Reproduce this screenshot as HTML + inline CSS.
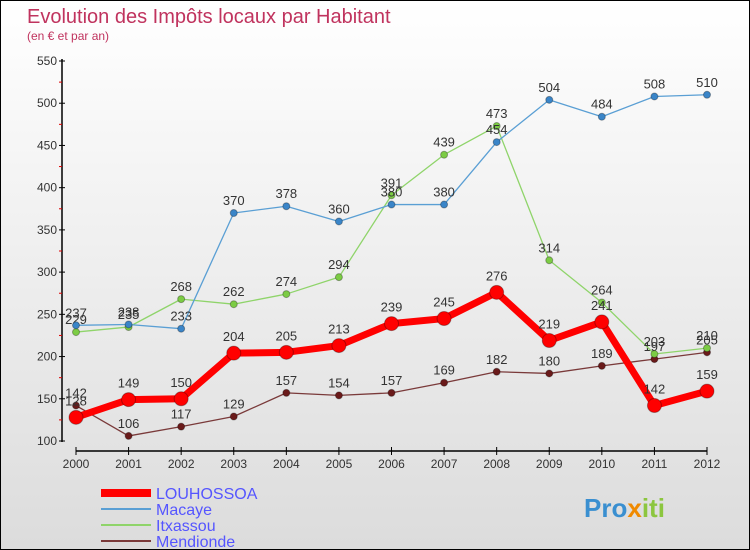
<!DOCTYPE html>
<html><head><meta charset="utf-8"><style>
body{margin:0}
#c{width:750px;height:550px;box-sizing:border-box;border:1px solid #000;background:linear-gradient(#fff,#dcdcdc);position:relative;overflow:hidden;font-family:"Liberation Sans","DejaVu Sans",sans-serif}
</style></head><body>
<div id="c">
<svg id="s" width="750" height="550" style="position:absolute;left:0;top:0">
<text x="26" y="22" font-size="20" fill="#c0335e">Evolution des Impôts locaux par Habitant</text>
<text x="26" y="39" font-size="12" fill="#c0335e">(en € et par an)</text>
</svg>
</div>
<script>
const years=[2000,2001,2002,2003,2004,2005,2006,2007,2008,2009,2010,2011,2012];
const louhossoa=[128,149,150,204,205,213,239,245,276,219,241,142,159];
const macaye=[237,238,233,370,378,360,380,380,454,504,484,508,510];
const itxassou=[229,235,268,262,274,294,391,439,473,314,264,203,210];
const mendionde=[142,106,117,129,157,154,157,169,182,180,189,197,205];
const yTicks=[100,150,200,250,300,350,400,450,500,550];
const seriesNames=["LOUHOSSOA","Macaye","Itxassou","Mendionde"];
const svg=document.getElementById('s');const NS='http://www.w3.org/2000/svg';
const x=i=>75+i*(706-75)/(years.length-1);
const y=v=>440-(v-100)*380/450;
function mk(t,a,p){const e=document.createElementNS(NS,t);for(const k in a)e.setAttribute(k,a[k]);(p||svg).appendChild(e);return e;}
let ax=mk('line',{x1:61,y1:58,x2:61,y2:441,stroke:'#000','stroke-width':1.5});

yTicks.forEach((v,i)=>{mk('line',{x1:58,x2:64,y1:y(v),y2:y(v),stroke:'#000'});
 if(i<yTicks.length-1)mk('line',{x1:58,x2:61,y1:y(v+25),y2:y(v+25),stroke:'#d00'});
 const t=mk('text',{x:56,y:y(v)+4,'text-anchor':'end','font-size':12,fill:'#333'});t.textContent=v;
 });
let xa=mk('line',{x1:75,y1:450,x2:706,y2:450,stroke:'#000','stroke-width':1.5});

years.forEach((yr,i)=>{mk('line',{x1:x(i),x2:x(i),y1:446,y2:454,stroke:'#000'});
 const t=mk('text',{x:x(i),y:467,'text-anchor':'middle','font-size':12,fill:'#333'});t.textContent=yr;
 });
function series(d,col,w,r,fill,name){const g=mk('g',{});
 mk('polyline',{points:d.map((v,i)=>x(i)+','+y(v)).join(' '),fill:'none',stroke:col,'stroke-width':w,'stroke-linejoin':'round'},g);
 d.forEach((v,i)=>{const c=mk('circle',{cx:x(i),cy:y(v),r:r,fill:fill,stroke:'rgba(0,0,0,0.3)'},g);
  
  const t=mk('text',{x:x(i),y:y(v)-8-(r>5?4:0),'text-anchor':'middle','font-size':13,fill:'#333'},g);t.textContent=v;
  });}
series(mendionde,'#7a3a3a',1.3,3.5,'#6a1a1a','mendionde');
series(itxassou,'#8fd46a',1.3,3.5,'#7ccc44','itxassou');
series(macaye,'#5a9fd4',1.3,3.5,'#3a85c8','macaye');
series(louhossoa,'#f00',7,7,'#f00','louhossoa');
const lcol=['#f00','#5a9fd4','#8fd46a','#7a3a3a'],lw=[8,2,2,2];
seriesNames.forEach((n,i)=>{const yy=492+i*16;const g=mk('g',{});
 mk('line',{x1:100,x2:150,y1:yy,y2:yy,stroke:lcol[i],'stroke-width':lw[i]},g);
 const t=mk('text',{x:155,y:yy+6,'font-size':16,fill:'#5555ff'},g);t.textContent=n;});
const p=mk('text',{x:583,y:516,'font-size':26,'font-weight':'bold'});

[['Pro','#3a8fd0'],['x','#f08a00'],['iti','#8cc63f']].forEach(([s,c])=>{const ts=mk('tspan',{fill:c},p);ts.textContent=s;});
</script>
</body></html>
